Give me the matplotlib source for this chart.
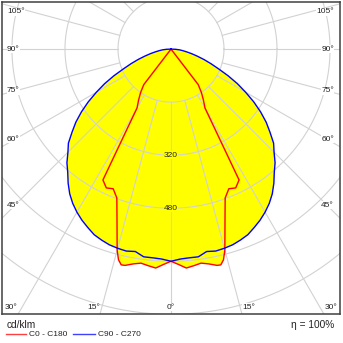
import numpy as np
import matplotlib; matplotlib.use("Agg")
import matplotlib.pyplot as plt
from matplotlib.lines import Line2D

# ---- data (gamma in deg from nadir, intensity in cd/klm) ----
BLUE_G = np.arange(0, 90.1, 2.5)
BLUE_I = [640, 634, 632, 632, 620, 624, 622, 619, 613, 606, 594, 582, 568,
          552, 533, 510, 485, 465, 440, 420, 390, 362, 330, 296, 260, 226,
          190, 155, 128, 104, 82, 64, 48, 36, 26, 14, 0]
RED_G = [0, 2, 4, 6, 8, 10, 12, 13, 14, 15, 17.5, 20, 22.5, 25, 27.5, 30,
         32.5, 35, 37.5, 40, 45, 60, 75, 90]
RED_I = [640, 650, 662, 657, 652, 658, 667, 668, 655, 628, 542, 478, 456,
         462, 445, 205, 182, 160, 135, 0, 0, 0, 0, 0]
RINGS = [160, 320, 480, 640, 800]
RING_LABELS = [320, 480]
SIDE_ANGLES = [105, 90, 75, 60, 45]
BOTTOM_ANGLES = [-30, -15, 0, 15, 30]

XL, YB, YT = 511, -800, 143
GRID = "#d2d2d2"
TXT = "#222222"
YELLOW = "#ffff00"

plt.rcParams.update({"font.family": ["Liberation Sans", "DejaVu Sans"]})

fig = plt.figure(figsize=(3.43, 3.43), dpi=100)
ax = fig.add_axes([1.7 / 343, 28.7 / 343, 338.6 / 343, 312.6 / 343])
ax.set_xlim(-XL, XL); ax.set_ylim(YB, YT)
ax.set_xticks([]); ax.set_yticks([])
for s in ax.spines.values():
    s.set_color("#404040"); s.set_linewidth(1.1)


def curve(g, i):
    """full C-plane curve: left half (90 -> 0) then right half (0 -> 90)"""
    g = np.radians(np.asarray(g, float)); i = np.asarray(i, float)
    xl, yl = -i[::-1] * np.sin(g[::-1]), -i[::-1] * np.cos(g[::-1])
    xr, yr = i * np.sin(g), -i * np.cos(g)
    return np.concatenate([xl, xr[1:]]), np.concatenate([yl, yr[1:]])


xr_, yr_ = curve(RED_G, RED_I)
xb_, yb_ = curve(BLUE_G, BLUE_I)
ax.fill(xb_, yb_, color=YELLOW, lw=0, zorder=1)
ax.fill(xr_, yr_, color=YELLOW, lw=0, zorder=1)

# grid: rings + radial lines every 15 deg starting at first ring
t = np.linspace(0, 2 * np.pi, 400)
for R in RINGS:
    ax.plot(R * np.cos(t), R * np.sin(t), color=GRID, lw=0.8, zorder=2)
for a in range(0, 360, 15):
    ar = np.radians(a)
    ax.plot([160 * np.sin(ar), 1500 * np.sin(ar)],
            [-160 * np.cos(ar), -1500 * np.cos(ar)], color=GRID, lw=0.8, zorder=2)

for R in RING_LABELS:
    ax.text(0, -R, str(R), ha="center", va="center", fontsize=6, color=TXT,
            zorder=3, bbox=dict(fc=YELLOW, ec="none", pad=0.2))

ax.plot(xr_, yr_, color="#ff0000", lw=1.0, zorder=4)
ax.plot(xb_, yb_, color="#0000ff", lw=1.0, zorder=5)

# angle labels
px = 0.3313  # px per cd
lab_box = dict(fc="white", ec="none", pad=0.3)
for g in SIDE_ANGLES:
    y = -471 / np.tan(np.radians(g)) if g != 90 else 0
    y = min(y, YT - 30)
    ax.text(-XL + 5.3 / px, y, f"{g}°", ha="left", va="center", fontsize=6,
            color=TXT, zorder=6, bbox=lab_box)
    ax.text(XL - 6.3 / px, y, f"{g}°", ha="right", va="center", fontsize=6,
            color=TXT, zorder=6, bbox=lab_box)
for g in BOTTOM_ANGLES:
    x = 800 * np.tan(np.radians(g))
    x = x + np.sign(x) * 20
    ax.text(x, -779, f"{abs(g)}°", ha="center", va="center", fontsize=6,
            color=TXT, zorder=6, bbox=lab_box)

# legend / footer
fig.text(7 / 343, 1 - 325 / 343, "cd/klm", ha="left", va="center", fontsize=7.3, color=TXT)
fig.text(334 / 343, 1 - 325 / 343, "η = 100%", ha="right", va="center", fontsize=7.3, color=TXT)
yl = 1 - 334 / 343
fig.add_artist(Line2D([5.7 / 343, 26 / 343], [yl, yl], color="#ff4040", lw=1.0))
fig.text(29 / 343, yl, "C0 - C180", ha="left", va="center", fontsize=6, color=TXT)
fig.add_artist(Line2D([73 / 343, 95 / 343], [yl, yl], color="#4040ff", lw=1.0))
fig.text(98 / 343, yl, "C90 - C270", ha="left", va="center", fontsize=6, color=TXT)

fig.savefig("out.png", dpi=100)
